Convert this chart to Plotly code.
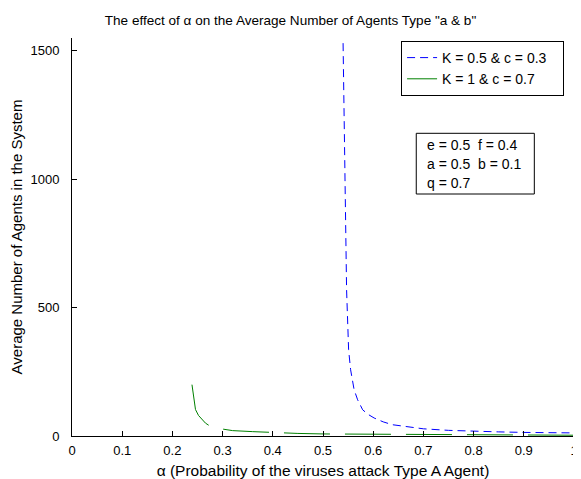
import plotly.graph_objects as go

# ---- data ----
blue_alpha = [0.540, 0.544, 0.547, 0.551, 0.555, 0.562, 0.569, 0.579, 0.590, 0.602,
              0.620, 0.638, 0.668, 0.700, 0.750, 0.800, 0.850, 0.900, 0.950, 1.000]
blue_avg = [1530, 930, 570, 336, 258, 180, 141, 102, 84, 70,
            55, 44, 35, 28, 22, 18, 16, 14, 13, 12]

green_alpha = [0.239, 0.242, 0.246, 0.252, 0.259, 0.266, 0.273, 0.280, 0.300, 0.320,
               0.360, 0.400, 0.450, 0.500, 0.600, 0.700, 0.800, 0.900, 1.000]
green_avg = [200, 150, 103, 80, 63, 50, 41, 36, 27, 21,
             17, 13, 10, 8, 7, 5, 4, 3, 3]

blue_name = "K = 0.5 & c = 0.3"
green_name = "K = 1 & c = 0.7"
x_ticks = [0, 0.1, 0.2, 0.3, 0.4, 0.5, 0.6, 0.7, 0.8, 0.9, 1]
x_tick_text = ["0", "0.1", "0.2", "0.3", "0.4", "0.5", "0.6", "0.7", "0.8", "0.9", "1"]
y_ticks = [0, 500, 1000, 1500]
param_lines = ["e = 0.5\u00a0\u00a0f = 0.4", "a = 0.5\u00a0\u00a0b = 0.1", "q = 0.7"]

FONT = "Liberation Sans, Arial, Helvetica, sans-serif"
PAD = "\u00a0\u00a0\u00a0"  # invisible right padding inside the legend box

fig = go.Figure()
fig.add_trace(go.Scatter(x=blue_alpha, y=blue_avg, mode="lines", name=blue_name + PAD,
                         line=dict(color="#0000FF", width=1, dash="8px,5px")))
fig.add_trace(go.Scatter(x=green_alpha, y=green_avg, mode="lines", name=green_name + PAD,
                         line=dict(color="#008000", width=1, dash="46px,15px")))

# page has an 8px body margin: figure starts at (8, 8)
OFF = 8
W, H = 573, 471
L, R, T, B = 64, 3, 30, 43
pw, ph = W - L - R, H - T - B

def px2x(px):
    return (px - OFF - L) / pw

def py2y(py):
    return (H - B - (py - OFF)) / ph

fig.update_layout(
    width=W, height=H,
    margin=dict(l=L, r=R, t=T, b=B),
    paper_bgcolor="white", plot_bgcolor="white",
    font=dict(family=FONT, size=13, color="black"),
    title=dict(text='The effect of α on the Average Number of Agents Type "a & b"',
               x=(290.5 - OFF) / W, xanchor="center", xref="container",
               y=1 - (20 - OFF) / H, yanchor="middle", yref="container",
               font=dict(size=13.55, color="black")),
    showlegend=True,
    legend=dict(x=px2x(568), xanchor="right", y=py2y(41), yanchor="top",
                bgcolor="white", bordercolor="black", borderwidth=1,
                font=dict(size=14), tracegroupgap=0),
    xaxis=dict(range=[0, 1], tickvals=x_ticks, ticktext=x_tick_text,
               showline=True, linecolor="black", linewidth=1, mirror=False,
               ticks="inside", ticklen=5, tickcolor="black", showgrid=False,
               zeroline=False, ticklabeloverflow="allow", ticklabelstandoff=2,
               title=dict(text="α (Probability of the viruses attack Type A Agent)",
                          font=dict(size=15.5), standoff=8)),
    yaxis=dict(range=[0, 1550], tickvals=y_ticks,
               showline=True, linecolor="black", linewidth=1, mirror=False,
               ticks="inside", ticklen=5, tickcolor="black", showgrid=False,
               zeroline=False, ticklabelstandoff=9,
               title=dict(text="Average Number of Agents in the System",
                          font=dict(size=15), standoff=5)),
)

# parameter box
fig.add_shape(type="rect", xref="paper", yref="paper",
              x0=px2x(419), x1=px2x(538), y0=py2y(194), y1=py2y(133.3),
              line=dict(color="black", width=1), fillcolor="white", layer="above")
for line_text, row_y in zip(param_lines, [145, 164, 182.7]):
    fig.add_annotation(text=line_text, xref="paper", yref="paper",
                       x=px2x(428), xanchor="left", y=py2y(row_y), yanchor="middle",
                       align="left", showarrow=False, font=dict(size=14, color="black"))

fig.write_html("out.html")
